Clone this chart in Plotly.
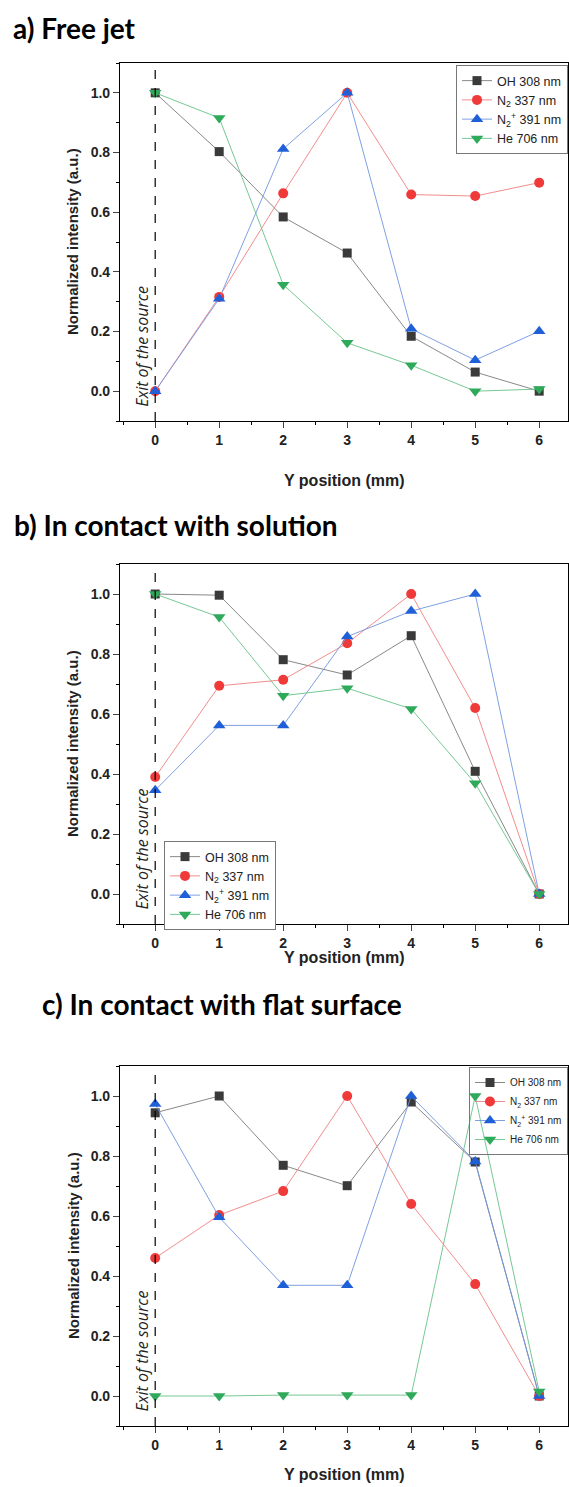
import plotly.graph_objects as go

# ---------------- data ----------------
positions = [0, 1, 2, 3, 4, 5, 6]
series_names = ["OH 308 nm", "N<sub>2</sub> 337 nm", "N<sub>2</sub><sup>+</sup> 391 nm", "He 706 nm"]
panel_titles = ["a) Free jet", "b) In contact with solution", "c) In contact with flat surface"]
y_ticks = [0.0, 0.2, 0.4, 0.6, 0.8, 1.0]

a_OH = [1.0, 0.803, 0.584, 0.463, 0.184, 0.064, 0.0]
a_N2 = [0.0, 0.316, 0.663, 1.0, 0.659, 0.654, 0.699]
a_N2p = [0.0, 0.31, 0.812, 1.0, 0.209, 0.104, 0.201]
a_He = [1.0, 0.916, 0.357, 0.162, 0.087, 0.0, 0.007]

b_OH = [1.0, 0.996, 0.781, 0.73, 0.861, 0.409, 0.0]
b_N2 = [0.39, 0.694, 0.714, 0.836, 1.0, 0.62, 0.0]
b_N2p = [0.346, 0.562, 0.562, 0.858, 0.943, 1.0, 0.0]
b_He = [1.0, 0.923, 0.661, 0.686, 0.617, 0.369, 0.0]

c_OH = [0.944, 1.0, 0.769, 0.701, 0.98, 0.78, 0.0]
c_N2 = [0.46, 0.603, 0.683, 1.0, 0.64, 0.373, 0.0]
c_N2p = [0.973, 0.596, 0.369, 0.369, 1.0, 0.782, 0.0]
c_He = [0.0, 0.0, 0.003, 0.003, 0.003, 1.0, 0.015]

panels = [
    [a_OH, a_N2, a_N2p, a_He],
    [b_OH, b_N2, b_N2p, b_He],
    [c_OH, c_N2, c_N2p, c_He],
]

# ---------------- styles ----------------
W, H = 569, 1487
marker_colors = ["#3a3a3a", "#f03a3a", "#1f5fd8", "#2fa95a"]
line_colors = ["#7a7a7a", "#f08080", "#7095e0", "#66c288"]
symbols = ["square", "circle", "triangle-up", "triangle-down"]
sizes = [9, 10, 11, 11]

# pixel geometry (page coordinates)
plot_px = [(63, 421), (564, 924), (1066, 1426)]
x_left_px, x_right_px = 120, 568
title_pos = [(11, 28), (12, 525), (40, 1004)]
xtitle_px = [480, 958, 1474]
legend_cfg = [
    dict(x_px=568, xanchor="right", y_px=65, font=12.5, bg="white"),
    dict(x_px=164, xanchor="left", y_px=841, font=12.5, bg="white"),
    dict(x_px=568, xanchor="right", y_px=1067, font=10, bg="rgba(255,255,255,0)"),
]

def px_x(px):
    return px / W

def px_y(px):
    return 1 - px / H

fig = go.Figure()
layout = dict(
    width=W, height=H, margin=dict(l=0, r=0, t=0, b=0),
    paper_bgcolor="white", plot_bgcolor="white",
    showlegend=True,
)
annotations = []
shapes = []
tick_font = dict(family="Liberation Sans", size=14, color="#222", weight="bold")

for i, data in enumerate(panels):
    sfx = "" if i == 0 else str(i + 1)
    xa, ya = "x" + sfx, "y" + sfx
    leg = "legend" if i == 0 else "legend" + str(i + 1)
    for k, vals in enumerate(data):
        fig.add_trace(go.Scatter(
            x=positions, y=vals, mode="lines+markers", name=series_names[k],
            xaxis=xa, yaxis=ya, legend=leg,
            line=dict(color=line_colors[k], width=0.9),
            marker=dict(symbol=symbols[k], size=sizes[k], color=marker_colors[k]),
        ))
    top, bot = plot_px[i]
    layout["xaxis" + sfx] = dict(
        domain=[px_x(x_left_px), px_x(x_right_px)], anchor=ya, range=[-0.55, 6.45],
        tickvals=positions, ticks="outside", ticklen=6, tickwidth=1.2,
        showline=True, linecolor="black", linewidth=1.2, mirror=True,
        showgrid=False, zeroline=False, tickfont=tick_font,
        minor=dict(ticks="outside", dtick=0.5, tick0=0, ticklen=3, tickcolor="black"),
    )
    layout["yaxis" + sfx] = dict(
        domain=[px_y(bot), px_y(top)], anchor=xa, range=[-0.1, 1.1],
        tickvals=y_ticks, tickformat=".1f", ticks="outside", ticklen=6, tickwidth=1.2,
        showline=True, linecolor="black", linewidth=1.2, mirror=True,
        showgrid=False, zeroline=False, tickfont=tick_font,
        minor=dict(ticks="outside", dtick=0.1, tick0=0, ticklen=3, tickcolor="black"),
    )
    lc = legend_cfg[i]
    layout[leg] = dict(
        x=px_x(lc["x_px"]), xanchor=lc["xanchor"], y=px_y(lc["y_px"]), yanchor="top",
        xref="paper", yref="paper",
        bgcolor=lc["bg"], bordercolor="#777", borderwidth=1,
        font=dict(family="Liberation Sans", size=lc["font"], color="#222"),
        tracegroupgap=0, itemwidth=30,
    )
    shapes.append(dict(type="line", xref=xa, yref=ya + " domain", x0=0, x1=0, y0=0, y1=1,
                       line=dict(color="black", width=1.2, dash="dash")))
    annotations.append(dict(text="Exit of the source", xref=xa, yref=ya, x=-0.2, y=0.15,
                            textangle=-90, showarrow=False, xanchor="center", yanchor="middle",
                            font=dict(family="Open Sans", size=16, color="#222", style="italic")))
    tx, ty = title_pos[i]
    annotations.append(dict(text=panel_titles[i], xref="paper", yref="paper", x=px_x(tx),
                            y=px_y(ty), xanchor="left", yanchor="middle", showarrow=False,
                            font=dict(family="Lato", size=28, color="black", weight="bold")))
    annotations.append(dict(text="Y position (mm)", xref="paper", yref="paper",
                            x=px_x((x_left_px + x_right_px) / 2), y=px_y(xtitle_px[i]),
                            xanchor="center", yanchor="middle", showarrow=False,
                            font=dict(family="Liberation Sans", size=16, color="#222", weight="bold")))
    annotations.append(dict(text="Normalized intensity (a.u.)", xref="paper", yref="paper",
                            x=px_x(73), y=px_y((top + bot) / 2), textangle=-90,
                            xanchor="center", yanchor="middle", showarrow=False,
                            font=dict(family="Liberation Sans", size=15, color="#222", weight="bold")))

layout["annotations"] = annotations
layout["shapes"] = shapes
fig.update_layout(**layout)
fig.write_html(
    "out.html",
    config={"displayModeBar": False},
    post_script="document.body.style.margin='0';document.body.style.overflow='hidden';",
)
